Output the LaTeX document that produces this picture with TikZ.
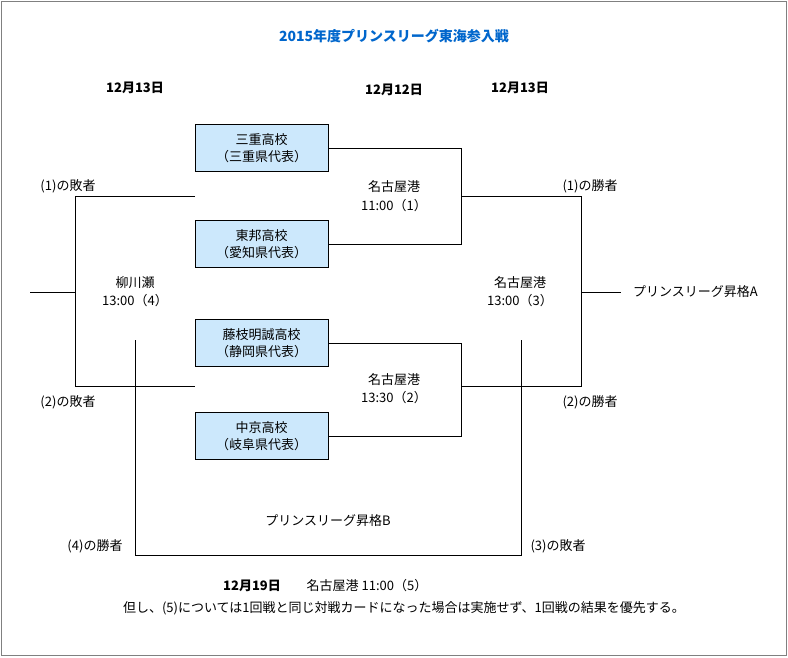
\documentclass[tikz,border=0pt]{standalone}
\usepackage{fontspec}
\setmainfont{Noto Sans CJK JP}
\definecolor{boxfill}{RGB}{204,232,252}
\definecolor{titleblue}{RGB}{0,102,204}
\begin{document}
\begin{tikzpicture}[x=1pt,y=-1pt,
 t/.style={inner sep=0pt,font=\fontsize{13}{15}\selectfont},
 b/.style={t,font=\fontsize{13}{15}\selectfont\bfseries},
 team/.style={draw,fill=boxfill,minimum width=133pt,minimum height=47pt,align=center,inner sep=0pt,font=\fontsize{13}{17}\selectfont},
 ln/.style={line width=0.6pt}]
\useasboundingbox (0,0) rectangle (788,657);
\draw[gray] (1,1) rectangle (786,655);
\node[b,text=titleblue,font=\fontsize{14}{16}\selectfont\bfseries] (title) at (394,36) {2015年度プリンスリーグ東海参入戦};
\node[b] (d1) at (135,88) {12月13日};
\node[b] (d2) at (394,90) {12月12日};
\node[b] (d3) at (520,88) {12月13日};
\node[team] (m) at (261.5,148) {三重高校\\（三重県代表）};
\node[team] (h) at (261.5,244) {東邦高校\\（愛知県代表）};
\node[team] (f) at (261.5,343) {藤枝明誠高校\\（静岡県代表）};
\node[team] (c) at (261.5,436) {中京高校\\（岐阜県代表）};
\coordinate (a1) at (461,148); \coordinate (a2) at (461,244);
\coordinate (b1) at (461,343); \coordinate (b2) at (461,436);
\draw[ln] (m.east) -- (a1) -- (a2) -- (h.east);
\draw[ln] (f.east) -- (b1) -- (b2) -- (c.east);
\coordinate (r1) at (461,196); \coordinate (r2) at (581,196);
\coordinate (r3) at (581,386); \coordinate (r4) at (461,386);
\coordinate (r5) at (581,292); \coordinate (r6) at (621,292);
\draw[ln] (r1) -- (r2) -- (r3) -- (r4);
\draw[ln] (r5) -- (r6);
\coordinate (l1) at (195,196); \coordinate (l2) at (75,196);
\coordinate (l3) at (75,386); \coordinate (l4) at (195,386);
\coordinate (l5) at (75,292); \coordinate (l6) at (30,292);
\draw[ln] (l1) -- (l2) -- (l3) -- (l4);
\draw[ln] (l5) -- (l6);
\coordinate (p1) at (135,340); \coordinate (p2) at (135,555);
\coordinate (p3) at (521,555); \coordinate (p4) at (521,340);
\draw[ln] (p1) -- (p2) -- (p3) -- (p4);
\node[t] (g1a) at (394,187) {名古屋港};
\node[t] (g1b) at (394,206) {11:00（1）};
\node[t] (g2a) at (394,380) {名古屋港};
\node[t] (g2b) at (394,398) {13:30（2）};
\node[t] (g4a) at (135,283) {柳川瀬};
\node[t] (g4b) at (135,301) {13:00（4）};
\node[t] (g3a) at (520,283) {名古屋港};
\node[t] (g3b) at (520,301) {13:00（3）};
\node[t] (x1) at (68,186) {(1)の敗者};
\node[t] (x2) at (68,402) {(2)の敗者};
\node[t] (x3) at (590,186) {(1)の勝者};
\node[t] (x4) at (590,402) {(2)の勝者};
\node[t] (x5) at (95,546) {(4)の勝者};
\node[t] (x6) at (558,546) {(3)の敗者};
\node[t] (pb) at (328,521) {プリンスリーグ昇格B};
\node[t,anchor=west] (pa) at (633,292) {プリンスリーグ昇格A};
\node[b] (d5) at (252,586) {12月19日};
\node[t] (g5) at (367,586) {名古屋港 11:00（5）};
\node[t] (note) at (404,608) {但し、(5)については1回戦と同じ対戦カードになった場合は実施せず、1回戦の結果を優先する。};
\end{tikzpicture}
\end{document}
